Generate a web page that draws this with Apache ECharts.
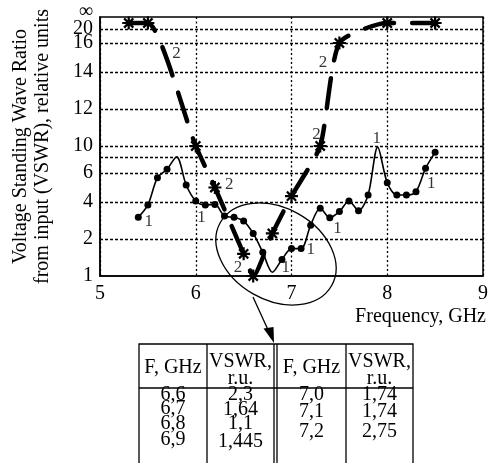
<!DOCTYPE html>
<html>
<head>
<meta charset="utf-8">
<script src="https://cdn.jsdelivr.net/npm/echarts@6/dist/echarts.min.js"></script>
<style>
html, body { margin: 0; padding: 0; background: #fff; }
#chart { width: 491px; height: 463px; }
</style>
</head>
<body>
<div id="chart"></div>
<script>
// 曲线1 (细线+圆点)
var freq1 = [5.4, 5.5, 5.6, 5.7, 5.8, 5.9, 6.0, 6.1, 6.2, 6.3, 6.4, 6.5, 6.6, 6.7, 6.8, 6.9,
  7.0, 7.1, 7.2, 7.3, 7.4, 7.5, 7.6, 7.7, 7.8, 7.9, 8.0, 8.1, 8.2, 8.3, 8.4, 8.5];
var vswr1 = [3.17, 3.84, 5.68, 6.46, 8.05, 5.17, 4.07, 3.84, 3.87, 3.24, 3.17, 2.97, 2.3, 1.64, 1.1, 1.445,
  1.74, 1.74, 2.75, 3.66, 3.15, 3.48, 4.07, 3.53, 4.48, 9.8, 5.33, 4.48, 4.48, 4.71, 6.59, 8.85];
var noDot1 = [5.8, 6.8, 7.9];

// 曲线2 (粗虚线+星号), 22 ~ 接近 ∞
var freq2 = [5.3, 5.5, 6.0, 6.2, 6.5, 6.6, 6.8, 7.0, 7.3, 7.5, 8.0, 8.5];
var vswr2 = [22, 22, 10, 5.0, 1.6, 1.0, 2.3, 4.4, 10, 16, 22, 22];

// 纵轴 (非线性刻度), 最上端 24 表示 ∞
var yTickVals = [1, 2, 4, 6, 8, 10, 12, 14, 16, 20, 24];
var yTickText = ['1', '2', '4', '6', '', '10', '12', '14', '16', '20', '\u221e'];
var yTickPos = [0, 37, 74, 103, 119, 130, 167, 204, 233, 247, 259];

// 曲线编号标注 [频率, VSWR]
var marks1 = [[5.51, 2.97], [6.06, 3.17], [6.94, 1.24], [7.20, 1.72], [7.48, 2.54], [8.46, 5.29], [7.89, 10.43]];
var marks2 = [[5.80, 15.29], [6.35, 5.22], [6.44, 1.22], [7.33, 14.67], [7.26, 10.63]];

// 表格
var tableHead = ['F, GHz', 'VSWR,', 'F, GHz', 'VSWR,'];
var tableF1 = ['6,6', '6,7', '6,8', '6,9'];
var tableV1 = ['2,3', '1,64', '1,1', '1,445'];
var tableF2 = ['7,0', '7,1', '7,2'];
var tableV2 = ['1,74', '1,74', '2,75'];

var FONT = 'Liberation Serif';

// VSWR -> 纵轴位置 (分段线性)
function toPos(v) {
  for (var i = 1; i < yTickVals.length; i++) {
    if (v <= yTickVals[i]) {
      var t = (v - yTickVals[i - 1]) / (yTickVals[i] - yTickVals[i - 1]);
      return yTickPos[i - 1] + t * (yTickPos[i] - yTickPos[i - 1]);
    }
  }
  return yTickPos[yTickPos.length - 1];
}

// 星号符号
function starPath() {
  var s = '', w = 0.17;
  [0, 45, 90, 135].forEach(function (a) {
    var r = a * Math.PI / 180, c = Math.cos(r), sn = Math.sin(r);
    var pts = [[-1, -w], [1, -w], [1, w], [-1, w]].map(function (p) {
      return (50 + 50 * (p[0] * c - p[1] * sn)).toFixed(1) + ' ' + (50 + 50 * (p[0] * sn + p[1] * c)).toFixed(1);
    });
    s += 'M' + pts.join(' L') + ' Z ';
  });
  return 'path://' + s;
}

var chart = echarts.init(document.getElementById('chart'));

var data1 = freq1.map(function (f, i) {
  var item = { value: [f, toPos(vswr1[i])] };
  if (noDot1.indexOf(f) >= 0) item.symbolSize = 0;
  return item;
});
var data2 = freq2.map(function (f, i) { return [f, toPos(vswr2[i])]; });

var markData = marks1.map(function (m) { return { value: [m[0], toPos(m[1])], name: '1' }; })
  .concat(marks2.map(function (m) { return { value: [m[0], toPos(m[1])], name: '2' }; }));

var gridLines = yTickVals.slice(1, -1).map(function (v) { return { yAxis: toPos(v) }; });

// 表格图形
var tableX = [139, 207, 274, 277, 346, 413];
var colC = [173, 240.5, 311.5, 379.5];
var tTop = 344, tDiv = 388;
var tableGraphics = [
  { type: 'rect', shape: { x: tableX[0], y: tTop, width: tableX[5] - tableX[0], height: 140 }, style: { fill: 'none', stroke: '#000', lineWidth: 1.3 } },
  { type: 'line', shape: { x1: tableX[0], y1: tDiv, x2: tableX[5], y2: tDiv }, style: { stroke: '#000', lineWidth: 1.3 } }
];
[1, 2, 3, 4].forEach(function (k) {
  tableGraphics.push({ type: 'line', shape: { x1: tableX[k], y1: tTop, x2: tableX[k], y2: 470 }, style: { stroke: '#000', lineWidth: 1.3 } });
});
function tText(txt, x, y) {
  return { type: 'text', x: x, y: y, style: { text: txt, font: '20px "' + FONT + '"', fill: '#000', align: 'center', verticalAlign: 'middle' } };
}
tableGraphics.push(tText(tableHead[0], colC[0], 368));
tableGraphics.push(tText(tableHead[1], colC[1], 362));
tableGraphics.push(tText('r.u.', colC[1], 379));
tableGraphics.push(tText(tableHead[2], colC[2], 368));
tableGraphics.push(tText(tableHead[3], colC[3], 362));
tableGraphics.push(tText('r.u.', colC[3], 379));
var rowY1 = [395, 409, 423.5, 439.5], rowV1 = [395, 410, 424, 442];
var rowY2 = [395, 412, 432];
tableF1.forEach(function (t, i) { tableGraphics.push(tText(t, colC[0], rowY1[i])); });
tableV1.forEach(function (t, i) { tableGraphics.push(tText(t, colC[1], rowV1[i])); });
tableF2.forEach(function (t, i) { tableGraphics.push(tText(t, colC[2], rowY2[i])); });
tableV2.forEach(function (t, i) { tableGraphics.push(tText(t, colC[3], rowY2[i])); });

var option = {
  animation: false,
  textStyle: { fontFamily: FONT },
  grid: { left: 100, right: 4, top: 17, bottom: 187, show: true, borderColor: '#000', borderWidth: 1.5 },
  xAxis: {
    type: 'value', min: 5, max: 9, interval: 1,
    axisLine: { lineStyle: { color: '#000', width: 1.5 } },
    axisTick: { show: false },
    axisLabel: { color: '#000', fontSize: 20, fontFamily: FONT, margin: 8 },
    splitLine: { show: true, lineStyle: { color: '#000', width: 1.3, type: [2, 2.5] } }
  },
  yAxis: {
    type: 'value', min: 0, max: 259,
    name: 'Voltage Standing Wave Ratio\nfrom input (VSWR), relative units',
    nameLocation: 'middle', nameGap: 46, nameRotate: 90,
    nameTextStyle: { color: '#000', fontSize: 20, fontFamily: FONT, lineHeight: 22 },
    axisLine: { show: true, lineStyle: { color: '#000', width: 1.5 } },
    axisTick: { show: false },
    splitLine: { show: false },
    axisLabel: {
      color: '#000', fontSize: 20, fontFamily: FONT, margin: 7, lineHeight: 11,
      customValues: yTickPos,
      // 最上端留空, ∞ 用图形文字单独画
      formatter: function (val) {
        var i = yTickPos.indexOf(val);
        return (i < 0 || i === yTickPos.length - 1) ? '' : yTickText[i];
      }
    }
  },
  series: [
    {
      type: 'line', data: data1, smooth: 0.3,
      symbol: 'circle', symbolSize: 7,
      lineStyle: { color: '#000', width: 1.6 },
      itemStyle: { color: '#000' },
      markLine: {
        silent: true, symbol: ['none', 'none'], label: { show: false },
        lineStyle: { color: '#000', width: 1.3, type: [3, 2] },
        data: gridLines
      },
      z: 3
    },
    {
      type: 'line', data: data2, smooth: 0.2,
      symbol: starPath(), symbolSize: 13,
      lineStyle: { color: '#000', width: 4.5, type: [30, 18], cap: 'round' },
      itemStyle: { color: '#000' },
      z: 4
    },
    {
      type: 'scatter', data: markData, symbolSize: 0, silent: true,
      label: { show: true, position: 'inside', formatter: '{b}', color: '#000', fontSize: 17, fontFamily: FONT },
      z: 5
    }
  ],
  graphic: [
    { type: 'text', x: 93, y: 12, style: { text: yTickText[yTickText.length - 1], font: '20px "' + FONT + '"', fill: '#000', align: 'right', verticalAlign: 'middle' } },
    { type: 'text', right: 5, top: 307, style: { text: 'Frequency, GHz', font: '20px "' + FONT + '"', fill: '#000' } },
    { type: 'ellipse', x: 276, y: 254, rotation: -0.52, shape: { cx: 0, cy: 0, rx: 64, ry: 46 }, style: { fill: 'none', stroke: '#000', lineWidth: 1.3 } },
    { type: 'line', shape: { x1: 253, y1: 297, x2: 269, y2: 332 }, style: { stroke: '#000', lineWidth: 1.3 } },
    { type: 'polygon', shape: { points: [[274, 343], [263.5, 328.5], [273.5, 327]] }, style: { fill: '#000' } }
  ].concat(tableGraphics)
};

chart.setOption(option);
</script>
</body>
</html>
